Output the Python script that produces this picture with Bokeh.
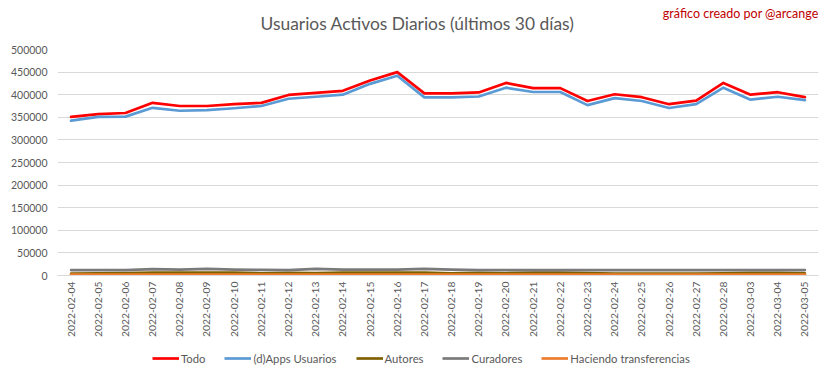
import math
from bokeh.plotting import figure
from bokeh.layouts import column
from bokeh.models import Range1d, Label, Legend, LegendItem
from bokeh.embed import file_html
from bokeh.resources import INLINE

dates = ["2022-02-04", "2022-02-05", "2022-02-06", "2022-02-07", "2022-02-08",
         "2022-02-09", "2022-02-10", "2022-02-11", "2022-02-12", "2022-02-13",
         "2022-02-14", "2022-02-15", "2022-02-16", "2022-02-17", "2022-02-18",
         "2022-02-19", "2022-02-20", "2022-02-21", "2022-02-22", "2022-02-23",
         "2022-02-24", "2022-02-25", "2022-02-26", "2022-02-27", "2022-02-28",
         "2022-03-03", "2022-03-04", "2022-03-05"]

todo = [351000, 357000, 359500, 382000, 375000, 375000, 379000, 382000, 399500, 404000,
        408500, 431500, 450000, 403000, 403000, 405000, 426000, 414500, 414500, 386000,
        401000, 394500, 379000, 387000, 426000, 400000, 405500, 394500]
apps = [342500, 351000, 351500, 371000, 364500, 366000, 370000, 375000, 391000, 395500,
        400000, 424000, 442000, 394000, 394000, 396000, 415500, 406000, 406000, 377000,
        392500, 386000, 370500, 379000, 415500, 389000, 395500, 388000]
autores = [4000, 4500, 5500, 6500, 6500, 6500, 6500, 5000, 6000, 5500,
           6500, 6500, 6500, 6500, 5000, 6000, 5000, 6500, 6500, 5500,
           4000, 4000, 4000, 4000, 4500, 6000, 6000, 4500]
curadores = [12000, 12000, 12000, 14000, 13000, 14500, 13000, 12500, 12000, 14500,
             13000, 13000, 13000, 14500, 13000, 12000, 12000, 12000, 12000, 12000,
             12000, 12000, 12000, 12000, 12000, 12000, 12000, 12000]
transferencias = [2000, 2000, 2000, 2000, 2000, 2000, 2000, 2000, 2000, 2000,
                  2000, 2000, 2000, 2000, 2000, 2000, 2000, 2000, 2000, 2000,
                  2000, 2000, 2000, 2000, 2000, 2000, 2000, 2000]

series_names = ["Todo", "(d)Apps Usuarios", "Autores", "Curadores", "Haciendo transferencias"]
series_colors = ["#ff0000", "#5b9bd5", "#7f6000", "#7a7a7a", "#ed7d31"]
y_ticks = [0, 50000, 100000, 150000, 200000, 250000, 300000, 350000, 400000, 450000, 500000]

FONT = "Lato"
TXT = "#595959"
W = 833


def blank(h):
    f = figure(width=W, height=h, x_range=Range1d(0, 1), y_range=Range1d(0, 1),
               output_backend="svg", toolbar_location=None,
               x_axis_location=None, y_axis_location=None,
               min_border_left=57, min_border_right=15, min_border_top=0, min_border_bottom=0)
    f.outline_line_color = None
    f.xgrid.grid_line_color = None
    f.ygrid.grid_line_color = None
    f.background_fill_color = "white"
    f.border_fill_color = "white"
    return f


# --- header: title and credit ---
top = blank(40)
top.add_layout(Label(x=360, y=17, x_units="screen", y_units="screen",
                     text="Usuarios Activos Diarios (últimos 30 días)",
                     text_font=FONT, text_font_size="17.4px", text_color=TXT,
                     text_align="center", text_baseline="middle"))
top.add_layout(Label(x=761, y=27, x_units="screen", y_units="screen",
                     text="gráfico creado por @arcange",
                     text_font=FONT, text_font_size="12.5px", text_color="#c00000",
                     text_align="right", text_baseline="middle"))

# --- main chart ---
p = figure(width=W, height=300, x_range=dates, y_range=Range1d(0, 500000),
           output_backend="svg", toolbar_location=None,
           min_border_left=57, min_border_right=15, min_border_top=9, min_border_bottom=65)
p.outline_line_color = None
p.background_fill_color = "white"
p.border_fill_color = "white"

p.xgrid.grid_line_color = None
p.ygrid.grid_line_color = "#d9d9d9"
p.ygrid.grid_line_width = 1

p.yaxis.ticker = y_ticks
p.yaxis.formatter.use_scientific = False
p.yaxis.axis_line_color = None
p.yaxis.major_tick_line_color = None
p.yaxis.minor_tick_line_color = None
p.yaxis.major_tick_out = 0
p.yaxis.major_label_standoff = 10
p.yaxis.major_label_text_font = FONT
p.yaxis.major_label_text_font_size = "10.5px"
p.yaxis.major_label_text_color = TXT

p.xaxis.axis_line_color = "#d9d9d9"
p.xaxis.major_tick_line_color = None
p.xaxis.minor_tick_line_color = None
p.xaxis.major_tick_out = 0
p.xaxis.major_label_standoff = 6
p.xaxis.major_label_orientation = math.pi / 2
p.xaxis.major_label_text_font = FONT
p.xaxis.major_label_text_font_size = "10.3px"
p.xaxis.major_label_text_color = TXT

for vals, col in zip([todo, apps, autores, curadores, transferencias], series_colors):
    p.line(dates, vals, line_color=col, line_width=2.7, line_join="round", line_cap="round")

# --- legend strip ---
leg = blank(39)
items = []
for name, col in zip(series_names, series_colors):
    r = leg.line(x=[0, 1], y=[-5, -5], line_color=col, line_width=2.7)
    items.append(LegendItem(label=name, renderers=[r]))
legend = Legend(items=items, orientation="horizontal", location=(95, 14),
                glyph_width=27, glyph_height=14, label_standoff=2, spacing=19, padding=0,
                margin=0, border_line_color=None, background_fill_alpha=0,
                label_text_font=FONT, label_text_font_size="11.3px", label_text_color=TXT,
                label_height=14)
leg.add_layout(legend, "center")

layout = column(top, p, leg, spacing=0)
open("out.html", "w").write(file_html(layout, INLINE))
